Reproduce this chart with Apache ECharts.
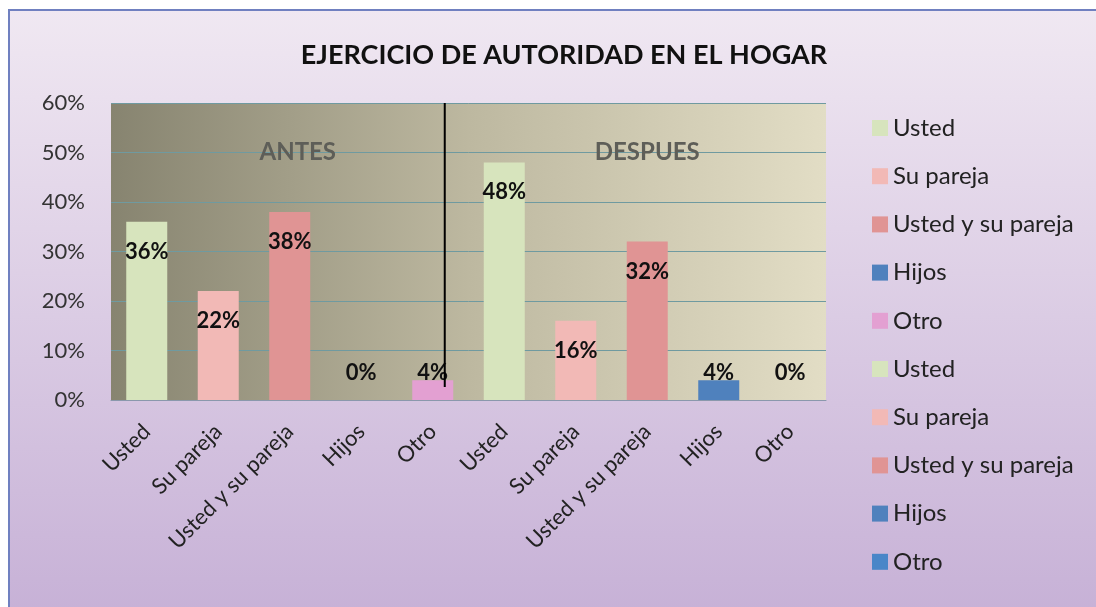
<!DOCTYPE html>
<html>
<head>
<meta charset="utf-8">
<script src="https://cdn.jsdelivr.net/npm/echarts@6/dist/echarts.min.js"></script>
<style>
  html, body { margin: 0; padding: 0; background: #fff; overflow: hidden; }
  #main { width: 1096px; height: 607px; }
</style>
</head>
<body>
<div id="main"></div>
<script>
// categorias del eje x (antes: 0-4, despues: 5-9)
var categories = ['Usted', 'Su pareja', 'Usted y su pareja', 'Hijos', 'Otro',
                  'Usted', 'Su pareja', 'Usted y su pareja', 'Hijos', 'Otro'];
var antes = [0.36, 0.22, 0.38, 0, 0.04];
var despues = [0.48, 0.16, 0.32, 0.04, 0];
var yTicks = [0, 0.1, 0.2, 0.3, 0.4, 0.5, 0.6];
var barColors = ['#d7e4bd', '#f2b9b6', '#e09494', '#4f81bd', '#e3a0d2',
                 '#d7e4bd', '#f2b9b6', '#e09494', '#4f81bd', '#4a86c8'];

var myChart = echarts.init(document.getElementById('main'));
var values = antes.concat(despues);
var font = 'Lato';

var series = categories.map(function (cat, i) {
    var data = categories.map(function () { return null; });
    data[i] = values[i];
    var small = values[i] < 0.1;
    return {
        type: 'bar',
        name: cat + (i < 5 ? ' (antes)' : ' (despues)'),
        data: data,
        barWidth: 41,
        barGap: '-100%',
        itemStyle: { color: barColors[i] },
        label: {
            show: true,
            position: small ? 'insideBottom' : 'insideTop',
            distance: small ? 16 : 19,
            fontFamily: font,
            fontWeight: 'bold',
            fontSize: 22,
            color: '#111',
            formatter: function (p) { return Math.round(p.value * 100) + '%'; }
        }
    };
});

var option = {
    animation: false,
    title: {
        text: 'EJERCICIO DE AUTORIDAD EN EL HOGAR',
        left: 559,
        top: 37,
        textAlign: 'center',
        textStyle: { fontFamily: font, fontWeight: 'bold', fontSize: 27, color: '#111' }
    },
    legend: {
        orient: 'vertical',
        left: 867,
        top: 111,
        itemWidth: 16,
        itemHeight: 16,
        itemGap: 24.2,
        icon: 'rect',
        data: series.map(function (s) { return s.name; }),
        formatter: function (name) { return name.replace(/ \((antes|despues)\)$/, ''); },
        textStyle: { fontFamily: font, fontSize: 24, lineHeight: 22, color: '#222' }
    },
    grid: {
        left: 111,
        top: 103,
        width: 715,
        height: 297,
        show: true,
        borderWidth: 0,
        backgroundColor: {
            type: 'linear', x: 0, y: 0, x2: 1, y2: 0,
            colorStops: [
                { offset: 0, color: '#878470' },
                { offset: 0.5, color: '#bdb8a0' },
                { offset: 1, color: '#e2ddc5' }
            ]
        }
    },
    xAxis: {
        type: 'category',
        data: categories,
        axisTick: { show: false },
        axisLine: { lineStyle: { color: '#8a98ac', width: 1 } },
        axisLabel: {
            interval: 0,
            rotate: 45,
            margin: 28,
            fontFamily: font,
            fontSize: 22,
            color: '#222'
        }
    },
    yAxis: {
        type: 'value',
        min: yTicks[0],
        max: yTicks[yTicks.length - 1],
        interval: 0.1,
        axisLine: { show: false },
        axisTick: { show: false },
        splitLine: { lineStyle: { color: '#6f9aa0', width: 1 } },
        axisLabel: {
            margin: 26,
            fontFamily: font,
            fontSize: 22,
            color: '#333',
            formatter: function (v) { return Math.round(v * 100) + '%'; }
        }
    },
    series: series
};
myChart.setOption(option);

// fondo, linea divisoria y textos ANTES / DESPUES
var px = function (idx, val) { return myChart.convertToPixel({ xAxisIndex: 0, yAxisIndex: 0 }, [idx, val]); };
var top60 = px(0, 0.6)[1];
var base = px(0, 0)[1];
var lineX = px(4, 0)[0] + 12;
var antesPos = px(2, 0.5);
var despuesPos = px(7, 0.5);

myChart.setOption({
    graphic: [
        {
            type: 'rect', z: -10, silent: true,
            shape: { x: 9, y: 10, width: 1200, height: 700 },
            style: {
                fill: {
                    type: 'linear', x: 0, y: 0, x2: 0, y2: 1,
                    colorStops: [
                        { offset: 0, color: '#f0e8f2' },
                        { offset: 1, color: '#c0a8d2' }
                    ]
                },
                stroke: '#7080c0',
                lineWidth: 2
            }
        },
        {
            type: 'line', z: 10, silent: true,
            shape: { x1: lineX, y1: top60, x2: lineX, y2: base - 13 },
            style: { stroke: '#000', lineWidth: 2 }
        },
        {
            type: 'text', z: 10, silent: true,
            x: antesPos[0] + 8, y: antesPos[1],
            style: { text: 'ANTES', fontFamily: font, fontWeight: 'bold', fontSize: 24,
                     fill: '#5e5e58', align: 'center', verticalAlign: 'middle' }
        },
        {
            type: 'text', z: 10, silent: true,
            x: despuesPos[0], y: despuesPos[1],
            style: { text: 'DESPUES', fontFamily: font, fontWeight: 'bold', fontSize: 24,
                     fill: '#5e5e58', align: 'center', verticalAlign: 'middle' }
        }
    ]
});
</script>
</body>
</html>
